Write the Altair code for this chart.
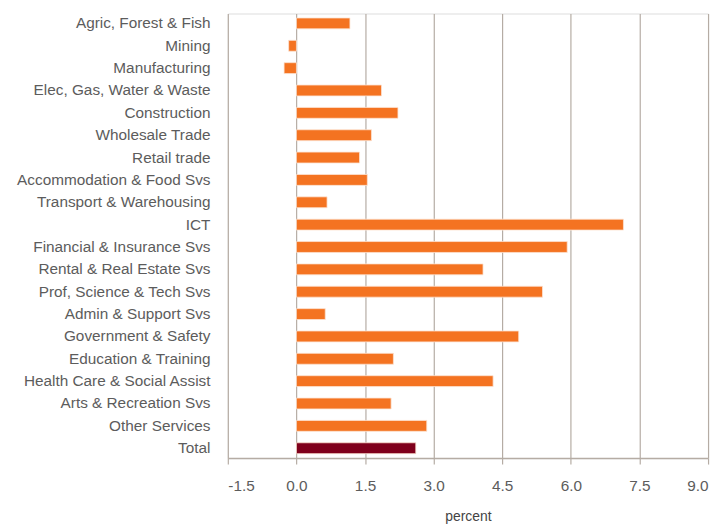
import altair as alt
import pandas as pd

categories = [
    "Agric, Forest & Fish", "Mining", "Manufacturing", "Elec, Gas, Water & Waste",
    "Construction", "Wholesale Trade", "Retail trade", "Accommodation & Food Svs",
    "Transport & Warehousing", "ICT", "Financial & Insurance Svs",
    "Rental & Real Estate Svs", "Prof, Science & Tech Svs", "Admin & Support Svs",
    "Government & Safety", "Education & Training", "Health Care & Social Assist",
    "Arts & Recreation Svs", "Other Services", "Total",
]
values = [1.17, -0.17, -0.27, 1.86, 2.22, 1.64, 1.38, 1.55, 0.67, 7.15,
          5.92, 4.08, 5.38, 0.63, 4.86, 2.12, 4.30, 2.07, 2.85, 2.61]
groups = ["Industry"] * 19 + ["Total"]
x_ticks = [-1.5, 0.0, 1.5, 3.0, 4.5, 6.0, 7.5, 9.0]

df = pd.DataFrame({"industry": categories, "value": values, "group": groups})

grid_color = "#b5aca4"
label_color = "#5c5c5c"

bars = alt.Chart(df).mark_bar(size=11, stroke="#fde3d3", strokeWidth=0.8).encode(
    y=alt.Y("industry:N", sort=categories, title=None,
            scale=alt.Scale(paddingInner=0.115, paddingOuter=0),
            axis=alt.Axis(ticks=False, domain=False, labelPadding=18,
                          labelLimit=400,
                          labelFontSize=15.5, labelColor=label_color,
                          labelFont="Liberation Sans", grid=False)),
    x=alt.X("value:Q", title="percent",
            scale=alt.Scale(domain=[-1.5, 9.0], nice=False, zero=False),
            axis=alt.Axis(values=x_ticks,
                          labelExpr="replace(format(datum.value, '.1f'), '\u2212', '-')",
                          grid=True,
                          gridColor=grid_color, gridWidth=1.2,
                          domainColor=grid_color, domainWidth=1.5,
                          tickColor=grid_color, tickSize=6, tickWidth=1.2,
                          labelFontSize=15.5, labelColor=label_color,
                          labelFont="Liberation Sans", labelPadding=15,
                          titleFontSize=14, titleColor="#444444",
                          titleFont="Liberation Sans", titleFontWeight="normal",
                          titlePadding=16)),
    color=alt.Color("group:N",
                    scale=alt.Scale(domain=["Industry", "Total"],
                                    range=["#f47321", "#7f001c"]),
                    legend=None),
)

chart = bars.properties(width=485, height=449).configure_view(
    stroke=grid_color, strokeWidth=1.5
).configure(padding={"left": 8, "top": 3, "right": 5, "bottom": 1})

chart.save("out.html", embed_options={"renderer": "svg", "actions": False})
